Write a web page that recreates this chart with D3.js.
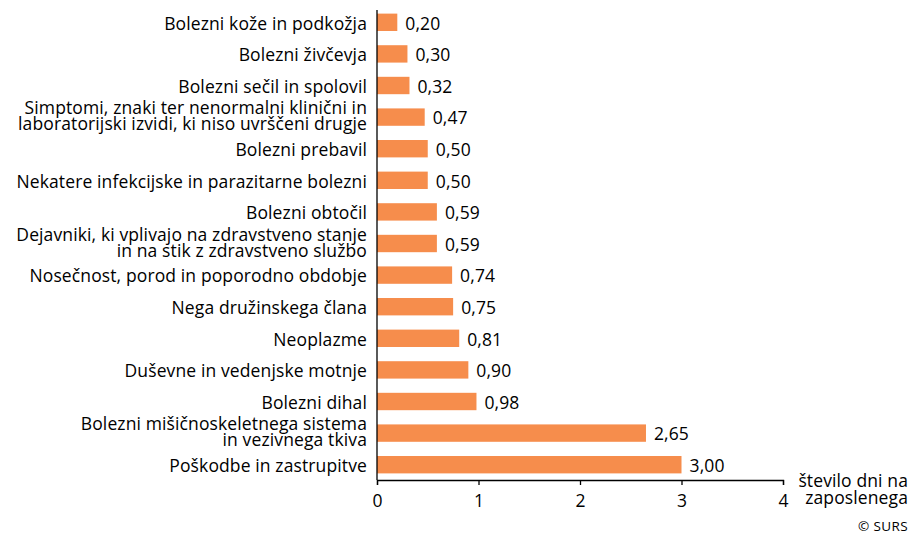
<!DOCTYPE html>
<html>
<head>
<meta charset="utf-8">
<script src="https://cdn.jsdelivr.net/npm/d3@7"></script>
<style>
  html, body { margin: 0; padding: 0; background: #fff; }
  svg { display: block; font-family: "Open Sans", "Noto Sans", sans-serif; }
</style>
</head>
<body>
<svg id="chart" width="912" height="534"></svg>
<script>
// Categories (each entry is a list of label lines), top to bottom
const categories = [
  ["Bolezni kože in podkožja"],
  ["Bolezni živčevja"],
  ["Bolezni sečil in spolovil"],
  ["Simptomi, znaki ter nenormalni klinični in", "laboratorijski izvidi, ki niso uvrščeni drugje"],
  ["Bolezni prebavil"],
  ["Nekatere infekcijske in parazitarne bolezni"],
  ["Bolezni obtočil"],
  ["Dejavniki, ki vplivajo na zdravstveno stanje", "in na stik z zdravstveno službo"],
  ["Nosečnost, porod in poporodno obdobje"],
  ["Nega družinskega člana"],
  ["Neoplazme"],
  ["Duševne in vedenjske motnje"],
  ["Bolezni dihal"],
  ["Bolezni mišičnoskeletnega sistema", "in vezivnega tkiva"],
  ["Poškodbe in zastrupitve"]
];
const values = [0.20, 0.30, 0.32, 0.47, 0.50, 0.50, 0.59, 0.59, 0.74, 0.75, 0.81, 0.90, 0.98, 2.65, 3.00];
const xTicks = [0, 1, 2, 3, 4];
const axisTitle = ["število dni na", "zaposlenega"];
const source = "© SURS";

const FS = 17.5;
const LS = "0.12px";
const svg = d3.select("#chart");
const fmt = v => v.toFixed(2).replace(".", ",");

const x = d3.scaleLinear().domain([0, 4]).range([377, 783]);
const y = d3.scaleBand().domain(d3.range(categories.length))
  .range([6.5, 480.5]).paddingInner(0.45).paddingOuter(0.225);

// bars
svg.append("g").selectAll("rect").data(values).join("rect")
  .attr("x", x(0))
  .attr("y", (d, i) => y(i))
  .attr("width", d => x(d) - x(0))
  .attr("height", y.bandwidth())
  .attr("fill", "#F68D4C");

// value labels
svg.append("g").selectAll("text").data(values).join("text")
  .attr("x", d => x(d) + 8)
  .attr("y", (d, i) => y(i) + y.bandwidth() / 2)
  .attr("dy", "0.42em")
  .attr("font-size", FS)
  .attr("letter-spacing", LS)
  .attr("fill", "#000")
  .text(fmt);

// category labels
const cat = svg.append("g").selectAll("text").data(categories).join("text")
  .attr("text-anchor", "end")
  .attr("font-size", FS)
  .attr("letter-spacing", LS)
  .attr("fill", "#000")
  .attr("transform", (d, i) => `translate(367,${y(i) + y.bandwidth() / 2})`);
cat.each(function (lines) {
  const t = d3.select(this);
  const off = lines.length > 1 ? -10 : 0;
  lines.forEach((l, k) => {
    t.append("tspan").attr("x", 0).attr("y", off + k * 16).attr("dy", "0.42em").text(l);
  });
});

// x axis
const axis = d3.axisBottom(x).tickValues(xTicks).tickSize(5).tickPadding(10).tickFormat(d3.format("d"));
const ax = svg.append("g").attr("transform", "translate(0,480)").call(axis);
ax.select(".domain").attr("stroke", "#000").attr("stroke-width", 1.3);
ax.selectAll(".tick line").attr("stroke", "#000").attr("stroke-width", 1.3);
ax.selectAll(".tick text").attr("font-size", FS).attr("font-family", "Open Sans, Noto Sans, sans-serif").attr("fill", "#000");

// vertical category axis line
svg.append("line")
  .attr("x1", x(0)).attr("x2", x(0))
  .attr("y1", 10).attr("y2", 480)
  .attr("stroke", "#000").attr("stroke-width", 1.3);

// axis title
svg.append("text")
  .attr("text-anchor", "end")
  .attr("font-size", FS)
  .attr("letter-spacing", LS)
  .attr("fill", "#000")
  .selectAll("tspan").data(axisTitle).join("tspan")
  .attr("x", 908)
  .attr("y", (d, i) => 487 + i * 16.5)
  .text(d => d);

// source note
svg.append("text")
  .attr("x", 908).attr("y", 531)
  .attr("text-anchor", "end")
  .attr("font-size", 13.5)
  .attr("letter-spacing", "0.4px")
  .attr("fill", "#000")
  .text(source);
</script>
</body>
</html>
